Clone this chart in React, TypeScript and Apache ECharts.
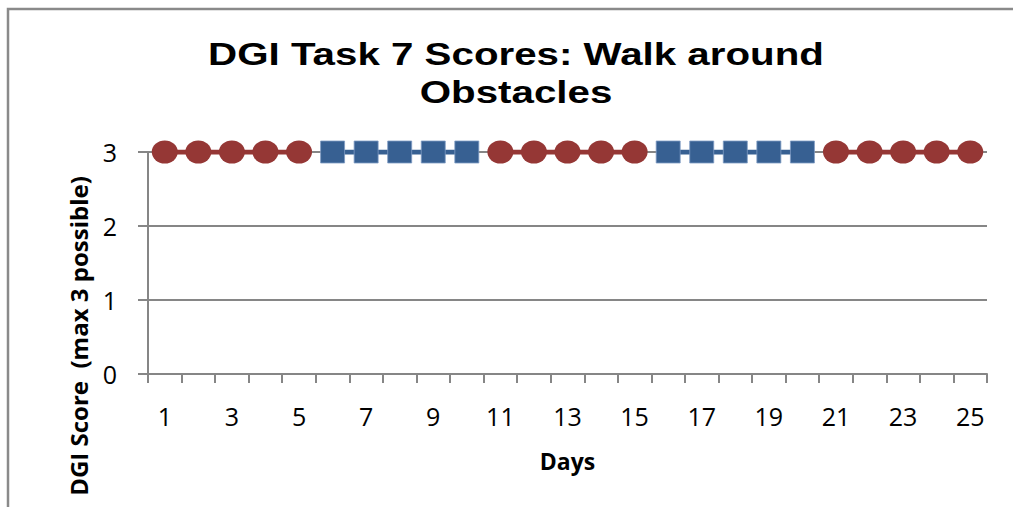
import React, { useEffect, useRef } from "react";
import * as echarts from "echarts";

const days = ["1","2","3","4","5","6","7","8","9","10","11","12","13","14","15","16","17","18","19","20","21","22","23","24","25"];
const redScores = [3,3,3,3,3,null,null,null,null,null,3,3,3,3,3,null,null,null,null,null,3,3,3,3,3];
const blueScores = [null,null,null,null,null,3,3,3,3,3,null,null,null,null,null,3,3,3,3,3,null,null,null,null,null];
const yTicks = [0, 1, 2, 3];

const GRAY = "#868686";
const RED = "#953735";
const BLUE = "#376092";
const FONT = "Open Sans";
const ELLIPSE = "path://M0,10 A10,10 0 1,1 20,10 A10,10 0 1,1 0,10 Z";

export default function App() {
  const ref = useRef<HTMLDivElement>(null);
  useEffect(() => {
    if (!ref.current) return;
    const chart = echarts.init(ref.current, null, { renderer: "svg" });
    chart.setOption({
      animation: false,
      backgroundColor: "#ffffff",
      graphic: [
        {
          type: "polyline",
          shape: { points: [[8, 520], [8, 9], [1030, 9]] },
          style: { stroke: "#8a8a8a", lineWidth: 2.5, fill: "none" },
          silent: true,
        },
        {
          type: "text",
          x: 516,
          y: 73.5,
          scaleX: 1.26,
          style: {
            text: "DGI Task 7 Scores: Walk around\nObstacles",
            fontFamily: "Liberation Sans",
            fontWeight: "bold",
            fontSize: 32,
            lineHeight: 38,
            fill: "#000",
            align: "center",
            verticalAlign: "middle",
          },
        },
        {
          type: "text",
          x: 78,
          y: 336,
          rotation: Math.PI / 2,
          style: {
            text: "DGI Score  (max 3 possible)",
            fontFamily: FONT,
            fontWeight: "bold",
            fontSize: 24,
            fill: "#000",
            align: "center",
            verticalAlign: "middle",
          },
        },
      ],
      grid: { left: 148, right: 26, top: 152, bottom: 133, containLabel: false },
      xAxis: {
        type: "category",
        data: days,
        boundaryGap: true,
        name: "Days",
        nameLocation: "middle",
        nameGap: 75,
        nameTextStyle: { fontFamily: FONT, fontWeight: "bold", fontSize: 23, color: "#000" },
        axisLine: { lineStyle: { color: GRAY, width: 2 } },
        axisTick: { show: true, interval: 0, length: 9, lineStyle: { color: GRAY, width: 2 } },
        axisLabel: { interval: 1, margin: 29, fontFamily: FONT, fontSize: 25, color: "#000" },
        splitLine: { show: false },
      },
      yAxis: {
        type: "value",
        min: yTicks[0],
        max: yTicks[yTicks.length - 1],
        interval: 1,
        axisLine: { show: true, lineStyle: { color: GRAY, width: 2 } },
        axisTick: { show: true, length: 10, lineStyle: { color: GRAY, width: 2 } },
        axisLabel: { margin: 31, fontFamily: FONT, fontSize: 25, color: "#000" },
        splitLine: { show: true, lineStyle: { color: GRAY, width: 2 } },
      },
      series: [
        {
          type: "line",
          data: redScores,
          connectNulls: false,
          showAllSymbol: true,
          symbol: ELLIPSE,
          symbolSize: [26, 23],
          itemStyle: { color: RED },
          lineStyle: { color: RED, width: 5 },
          z: 3,
        },
        {
          type: "line",
          data: blueScores,
          connectNulls: false,
          showAllSymbol: true,
          symbol: "rect",
          symbolSize: [24, 22],
          itemStyle: { color: BLUE, borderColor: "#7f9cc4", borderWidth: 0.8 },
          lineStyle: { color: BLUE, width: 5 },
          z: 3,
        },
      ],
    });
    return () => chart.dispose();
  }, []);
  return (
    <div
      ref={ref}
      style={{ position: "absolute", left: 0, top: 0, width: 1013, height: 507 }}
    />
  );
}
